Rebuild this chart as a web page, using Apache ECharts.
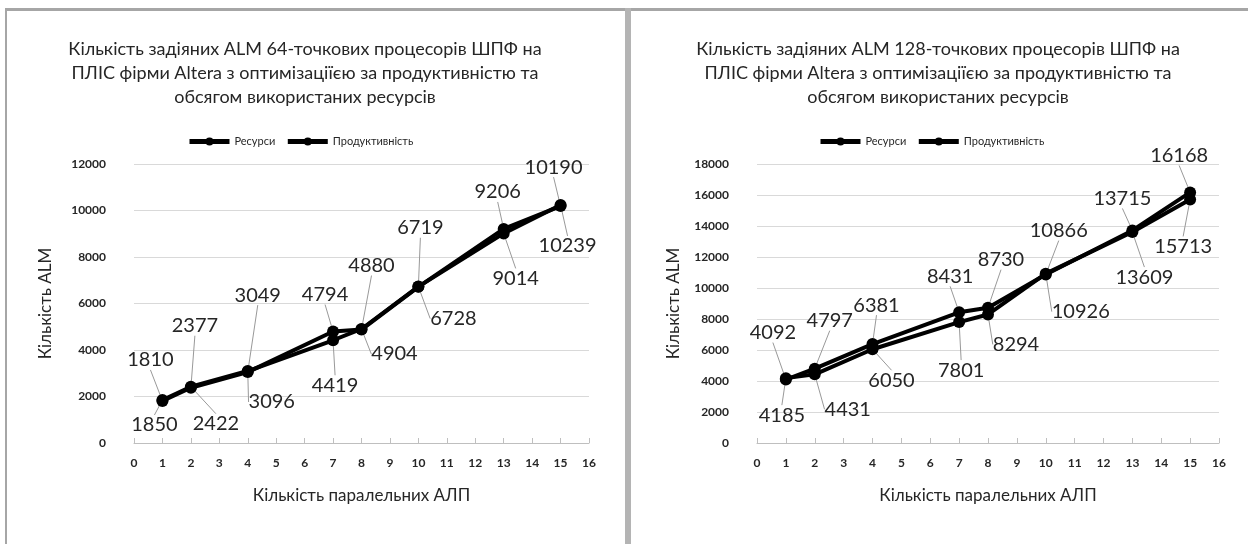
<!DOCTYPE html>
<html>
<head>
<meta charset="utf-8">
<script src="https://cdn.jsdelivr.net/npm/echarts@6/dist/echarts.min.js"></script>
<style>
  html, body { margin: 0; padding: 0; background: #fff; }
  #chart { width: 1248px; height: 544px; }
</style>
</head>
<body>
<div id="chart"></div>
<script>
// x positions (number of parallel ALUs)
const alus = [1, 2, 4, 7, 8, 10, 13, 15];

// 64-point FFT
const res64 = [1810, 2377, 3049, 4794, 4880, 6719, 9206, 10190];
const perf64 = [1850, 2422, 3096, 4419, 4904, 6728, 9014, 10239];
// 128-point FFT
const res128 = [4092, 4797, 6381, 8431, 8730, 10866, 13715, 16168];
const perf128 = [4185, 4431, 6050, 7801, 8294, 10926, 13609, 15713];

const seriesNames = ['Ресурси', 'Продуктивність'];
const titles = [
  'Кількість задіяних ALM 64-точкових процесорів ШПФ на\nПЛІС фірми Altera з оптимізаціїєю за продуктивністю та\nобсягом використаних ресурсів',
  'Кількість задіяних ALM 128-точкових процесорів ШПФ на\nПЛІС фірми Altera з оптимізаціїєю за продуктивністю та\nобсягом використаних ресурсів'
];

// callout label offsets (dx, dy from the point), per series
const labelShift = [
  [[-12, -41], [4, -62], [10, -77], [-8, -37], [10, -64], [2, -59], [-6, -37], [-7, -39]],
  [[-8, 25], [25, 37], [24, 31], [2, 45], [33, 25], [35, 32], [12, 45], [7, 41]],
  [[-13, -47], [15, -48], [4, -39], [-9, -36], [13, -48], [13, -44], [-10, -32], [-11, -37]],
  [[-4, 37], [33, 35], [19, 31], [2, 48], [28, 30], [35, 38], [12, 45], [-7, 47]]
];

const font = 'Lato, "Open Sans", sans-serif';
const textColor = '#262626';

const pairs = (vals) => alus.map((x, i) => [x, vals[i]]);

const makeSeries = (name, vals, idx, gridIdx) => ({
  name,
  type: 'line',
  xAxisIndex: gridIdx,
  yAxisIndex: gridIdx,
  data: pairs(vals),
  symbol: 'circle',
  symbolSize: 12,
  itemStyle: { color: '#000' },
  lineStyle: { color: '#000', width: 4 },
  label: {
    show: true,
    position: 'inside',
    formatter: (p) => String(p.value[1]),
    fontFamily: font,
    fontSize: 20,
    color: textColor,
  },
  labelLine: {
    show: true,
    lineStyle: { color: '#999', width: 1 },
  },
  labelLayout: (p) => {
    const s = labelShift[idx][p.dataIndex];
    return { dx: s[0], dy: s[1] };
  },
  emphasis: { disabled: true },
  animation: false,
});

const makeX = (gridIndex) => ({
  type: 'value',
  gridIndex,
  min: 0,
  max: 16,
  interval: 1,
  name: 'Кількість паралельних АЛП',
  nameLocation: 'middle',
  nameGap: 44,
  nameTextStyle: { fontFamily: font, fontSize: 17, color: textColor },
  axisLine: { lineStyle: { color: '#bfbfbf', width: 1 } },
  axisTick: { show: true, inside: true, length: 5, lineStyle: { color: '#bfbfbf' } },
  axisLabel: { fontFamily: font, fontSize: 12, fontWeight: 'bold', color: textColor, margin: 14 },
  splitLine: { show: false },
});

const makeY = (gridIndex, max, gap) => ({
  type: 'value',
  gridIndex,
  min: 0,
  max,
  interval: 2000,
  name: 'Кількість ALM',
  nameLocation: 'middle',
  nameRotate: 90,
  nameGap: gap,
  nameTextStyle: { fontFamily: font, fontSize: 17, color: textColor },
  axisLine: { show: false },
  axisTick: { show: false },
  axisLabel: {
    fontFamily: font, fontSize: 12, fontWeight: 'bold', color: textColor, margin: 28,
    formatter: (v) => String(v),
  },
  splitLine: { lineStyle: { color: '#d9d9d9', width: 1 } },
});

const makeLegend = (left) => ({
  left,
  top: 131,
  data: seriesNames,
  itemWidth: 40,
  itemHeight: 10,
  itemGap: 10,
  lineStyle: { width: 5 },
  textStyle: { fontFamily: font, fontSize: 11, color: textColor },
  selectedMode: false,
});

const borderColor = '#a6a6a6';

const chart = echarts.init(document.getElementById('chart'));
chart.setOption({
  backgroundColor: '#fff',
  animation: false,
  title: [
    { text: titles[0], left: 300, top: 32, textAlign: 'center',
      textStyle: { fontFamily: font, fontSize: 18, fontWeight: 'normal', color: textColor, lineHeight: 24 } },
    { text: titles[1], left: 933, top: 32, textAlign: 'center',
      textStyle: { fontFamily: font, fontSize: 18, fontWeight: 'normal', color: textColor, lineHeight: 24 } },
  ],
  legend: [makeLegend(182), makeLegend(813)],
  grid: [
    { left: 134, right: 659, top: 164, bottom: 101 },
    { left: 757, right: 29, top: 164, bottom: 101 },
  ],
  xAxis: [makeX(0), makeX(1)],
  yAxis: [makeY(0, 12000, 80), makeY(1, 18000, 75)],
  series: [
    makeSeries(seriesNames[0], res64, 0, 0),
    makeSeries(seriesNames[1], perf64, 1, 0),
    makeSeries(seriesNames[0], res128, 2, 1),
    makeSeries(seriesNames[1], perf128, 3, 1),
  ],
  graphic: [
    { type: 'rect', shape: { x: 5, y: 8, width: 1243, height: 3 }, style: { fill: borderColor }, silent: true },
    { type: 'rect', shape: { x: 5, y: 8, width: 2, height: 536 }, style: { fill: borderColor }, silent: true },
    { type: 'rect', shape: { x: 625, y: 8, width: 6, height: 536 }, style: { fill: '#b4b4b4' }, silent: true },
  ],
});
</script>
</body>
</html>
